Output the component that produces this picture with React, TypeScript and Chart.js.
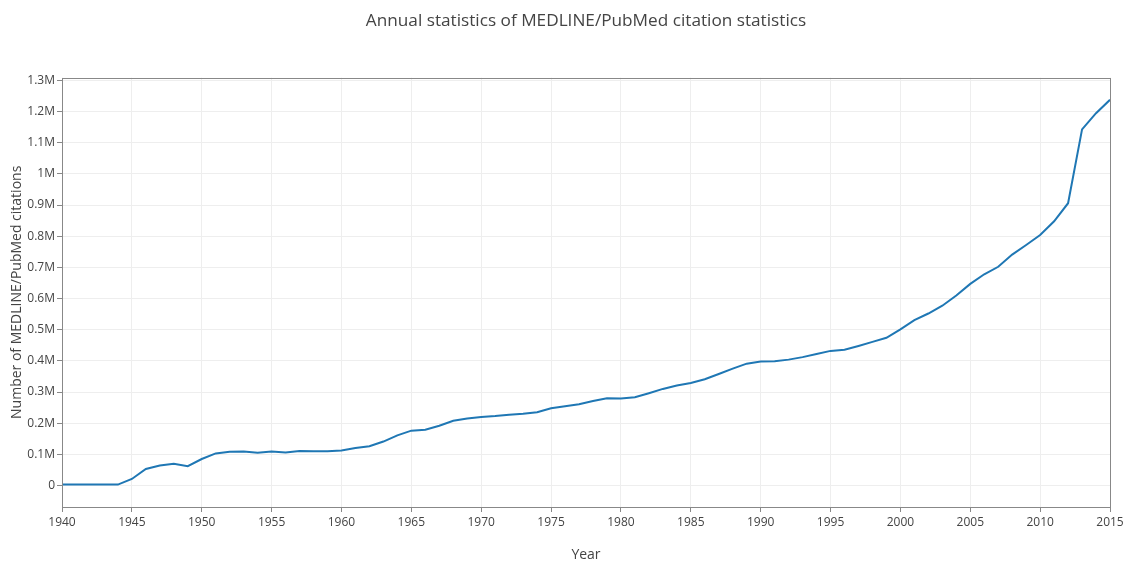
import React, { useEffect, useRef } from "react";
import { Chart, registerables } from "chart.js";

Chart.register(...registerables);

const years: number[] = [
  1940, 1941, 1942, 1943, 1944, 1945, 1946, 1947, 1948, 1949,
  1950, 1951, 1952, 1953, 1954, 1955, 1956, 1957, 1958, 1959,
  1960, 1961, 1962, 1963, 1964, 1965, 1966, 1967, 1968, 1969,
  1970, 1971, 1972, 1973, 1974, 1975, 1976, 1977, 1978, 1979,
  1980, 1981, 1982, 1983, 1984, 1985, 1986, 1987, 1988, 1989,
  1990, 1991, 1992, 1993, 1994, 1995, 1996, 1997, 1998, 1999,
  2000, 2001, 2002, 2003, 2004, 2005, 2006, 2007, 2008, 2009,
  2010, 2011, 2012, 2013, 2014, 2015,
];

const citations: number[] = [
  3000, 3000, 3000, 3000, 3000, 21000, 53000, 64000, 70000, 62000,
  85000, 103000, 108000, 109000, 105000, 109000, 106000, 111000, 110000, 110000,
  112000, 120000, 126000, 141000, 161000, 176000, 179000, 192000, 208000, 215000,
  220000, 223000, 227000, 230000, 235000, 248000, 254000, 261000, 271000, 280000,
  279000, 283000, 296000, 310000, 321000, 329000, 341000, 358000, 375000, 391000,
  398000, 399000, 404000, 412000, 422000, 432000, 436000, 448000, 461000, 474000,
  501000, 531000, 552000, 577000, 610000, 647000, 678000, 702000, 741000, 772000,
  804000, 848000, 906000, 1143000, 1195000, 1238000,
];

const yTickValues: number[] = [
  0, 100000, 200000, 300000, 400000, 500000, 600000, 700000, 800000, 900000,
  1000000, 1100000, 1200000, 1300000,
];
const yTickLabels: string[] = [
  "0", "0.1M", "0.2M", "0.3M", "0.4M", "0.5M", "0.6M", "0.7M", "0.8M", "0.9M",
  "1M", "1.1M", "1.2M", "1.3M",
];
const xTickValues: number[] = [
  1940, 1945, 1950, 1955, 1960, 1965, 1970, 1975, 1980, 1985, 1990, 1995,
  2000, 2005, 2010, 2015,
];

const chartTitle = "Annual statistics of MEDLINE/PubMed citation statistics";
const xTitle = "Year";
const yTitle = "Number of MEDLINE/PubMed citations";

const FONT = "'Open Sans', 'Noto Sans', sans-serif";
const TEXT = "#444";

const framePlugin = {
  id: "frame",
  afterDatasetsDraw(chart: any) {
    const { ctx, chartArea } = chart;
    const { left, top, right, bottom } = chartArea;
    ctx.save();
    ctx.strokeStyle = "#888";
    ctx.lineWidth = 1;
    ctx.strokeRect(
      Math.round(left) + 0.5,
      Math.round(top) + 0.5,
      Math.round(right) - Math.round(left),
      Math.round(bottom) - Math.round(top)
    );
    ctx.restore();
  },
};

export default function App() {
  const canvasRef = useRef<HTMLCanvasElement | null>(null);

  useEffect(() => {
    document.body.style.margin = "0";
    const canvas = canvasRef.current;
    if (!canvas) return;
    const chart = new Chart(canvas, {
      type: "line",
      data: {
        datasets: [
          {
            label: "Citations",
            data: years.map((y, i) => ({ x: y, y: citations[i] })),
            borderColor: "#1f77b4",
            backgroundColor: "#1f77b4",
            borderWidth: 2,
            pointRadius: 0,
            tension: 0,
            fill: false,
          },
        ],
      },
      options: {
        animation: false,
        responsive: false,
        devicePixelRatio: 1,
        layout: { padding: { left: 0, right: 17, top: 0, bottom: 0 } },
        plugins: {
          legend: { display: false },
          tooltip: { enabled: false },
          title: {
            display: true,
            text: chartTitle,
            fullSize: false,
            color: TEXT,
            font: { family: FONT, size: 17.2, weight: "normal" as any, lineHeight: 1.2 },
            padding: { top: 11, bottom: 46 },
          },
        },
        scales: {
          x: {
            type: "linear",
            min: 1940,
            max: 2015,
            afterBuildTicks: (scale: any) => {
              scale.ticks = xTickValues.map((v) => ({ value: v }));
            },
            afterFit: (scale: any) => {
              scale.height = 54;
            },
            ticks: {
              color: TEXT,
              font: { family: FONT, size: 12 },
              padding: 3,
              maxRotation: 0,
              autoSkip: false,
              callback: (v: any) => String(v),
            },
            grid: {
              color: "#eee",
              lineWidth: 1,
              tickColor: "#888",
              tickLength: 5,
              drawTicks: true,
            },
            border: { display: false },
            title: {
              display: true,
              text: xTitle,
              color: TEXT,
              font: { family: FONT, size: 14, lineHeight: 1.2 },
              padding: { top: 0, bottom: -2 },
            },
          },
          y: {
            type: "linear",
            min: -69000,
            max: 1309000,
            afterBuildTicks: (scale: any) => {
              scale.ticks = yTickValues.map((v) => ({ value: v }));
            },
            afterFit: (scale: any) => {
              scale.width = 62;
            },
            ticks: {
              color: TEXT,
              font: { family: FONT, size: 12 },
              padding: 2,
              autoSkip: false,
              callback: (v: any) => {
                const idx = yTickValues.indexOf(Number(v));
                return idx >= 0 ? yTickLabels[idx] : "";
              },
            },
            grid: {
              color: "#eee",
              lineWidth: 1,
              tickColor: "#888",
              tickLength: 5,
              drawTicks: true,
            },
            border: { display: false },
            title: {
              display: true,
              text: yTitle,
              color: TEXT,
              font: { family: FONT, size: 14, lineHeight: 1.2 },
              padding: { top: 9, bottom: 0 },
            },
          },
        },
      },
      plugins: [framePlugin],
    });
    return () => chart.destroy();
  }, []);

  return (
    <div style={{ position: "absolute", left: 0, top: 0, width: 1127, height: 561, background: "#fff" }}>
      <canvas ref={canvasRef} width={1127} height={561} style={{ display: "block" }} />
    </div>
  );
}
